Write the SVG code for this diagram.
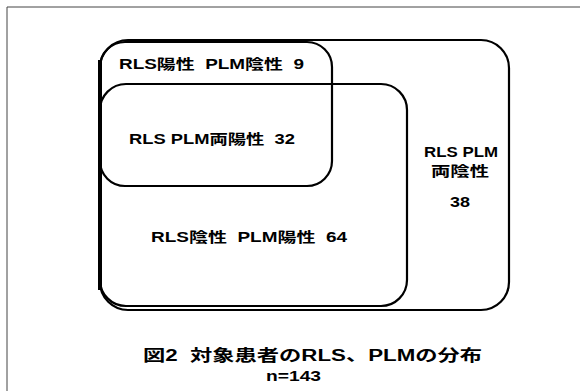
<svg xmlns="http://www.w3.org/2000/svg" width="584" height="391" viewBox="0 0 584 391">
<style>
.box{fill:none;stroke:#000;stroke-width:2.2}
.frame{fill:none;stroke:#444;stroke-width:1}
text{font-family:"Liberation Sans","Noto Sans CJK JP",sans-serif;font-weight:bold;fill:#000}
.lbl{font-size:14px}
.cap{font-size:16px}
</style>
<rect width="584" height="391" fill="#fff"/>
<g id="frame">
<line class="frame" x1="7" y1="7" x2="580" y2="7"/>
<line class="frame" x1="7" y1="7" x2="7" y2="391"/>
</g>
<g id="both-negative">
<rect class="box" x="100" y="40" width="409" height="270" rx="28" ry="28"/>
<text class="lbl" x="424" y="157" textLength="74" lengthAdjust="spacingAndGlyphs">RLS PLM</text>
<text class="lbl" x="431" y="176" textLength="58" lengthAdjust="spacingAndGlyphs">両陰性</text>
<text class="lbl" x="450" y="207" textLength="20" lengthAdjust="spacingAndGlyphs">38</text>
</g>
<g id="rls-positive">
<rect class="box" x="100" y="42" width="232" height="144" rx="25" ry="25"/>
<text class="lbl" x="119" y="69" textLength="185" lengthAdjust="spacingAndGlyphs" xml:space="preserve">RLS陽性  PLM陰性  9</text>
</g>
<g id="plm-positive">
<rect class="box" x="100" y="84" width="307" height="222" rx="26" ry="26"/>
<text class="lbl" x="129" y="144" textLength="166" lengthAdjust="spacingAndGlyphs" xml:space="preserve">RLS PLM両陽性  32</text>
<text class="lbl" x="151" y="242" textLength="196" lengthAdjust="spacingAndGlyphs" xml:space="preserve">RLS陰性  PLM陽性  64</text>
</g>
<line x1="100" y1="60" x2="100" y2="290" stroke="#000" stroke-width="4"/>
<g id="caption">
<text class="cap" x="143" y="361" textLength="339" lengthAdjust="spacingAndGlyphs" xml:space="preserve">図2  対象患者のRLS、PLMの分布</text>
<text class="lbl" x="266" y="381" textLength="55" lengthAdjust="spacingAndGlyphs">n=143</text>
</g>
</svg>
